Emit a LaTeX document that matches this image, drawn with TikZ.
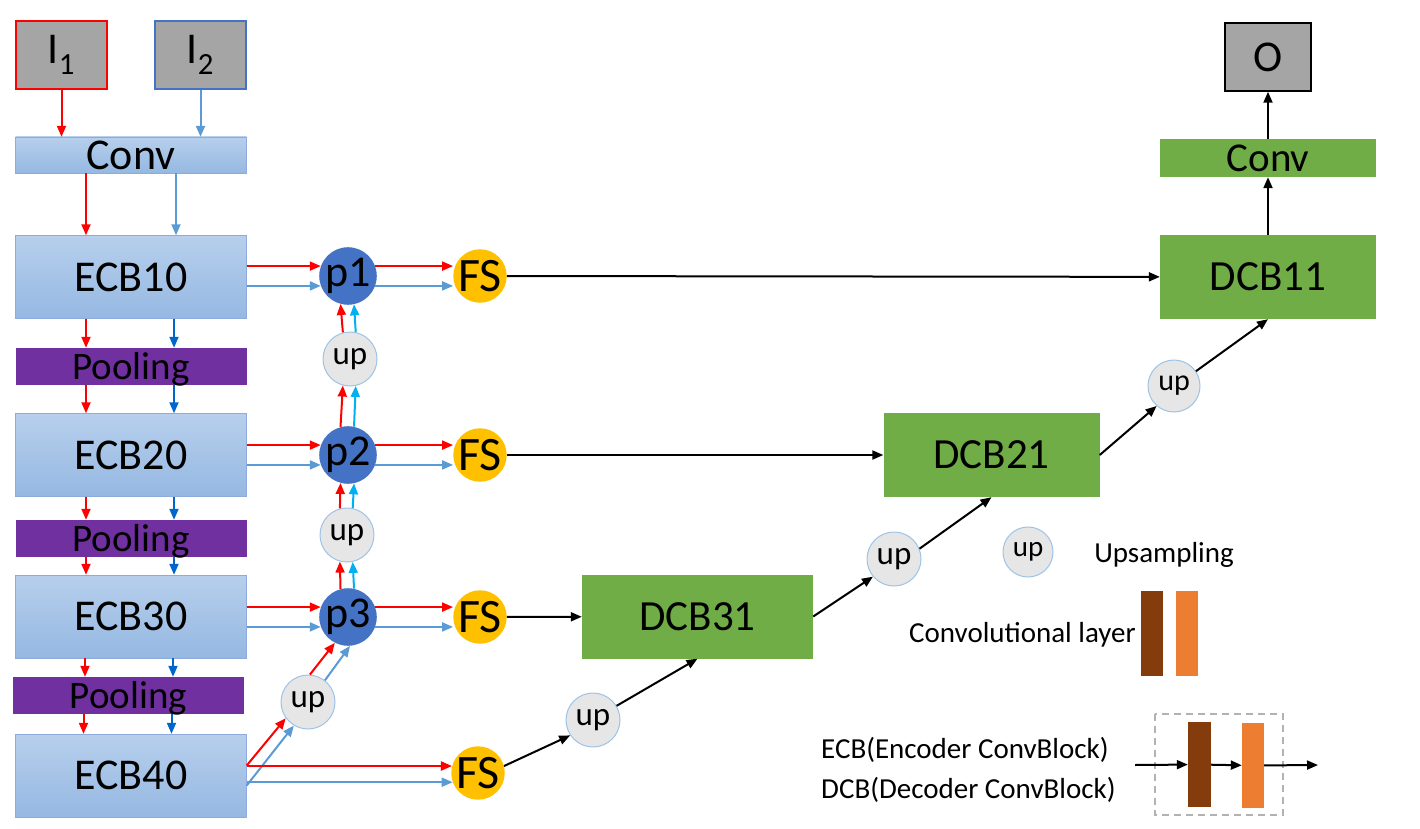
\documentclass[tikz,border=0pt]{standalone}
\usepackage{fontspec}
\setmainfont{Carlito}
\usepackage{tikz}
\usetikzlibrary{arrows.meta}
\definecolor{imggray}{HTML}{A5A5A5}
\definecolor{ecbtop}{HTML}{B7CFEC}
\definecolor{ecbbot}{HTML}{95B8E2}
\definecolor{ecbline}{HTML}{8FAADC}
\definecolor{poolpurple}{HTML}{7030A0}
\definecolor{pblue}{HTML}{4472C4}
\definecolor{fsyellow}{HTML}{FFC000}
\definecolor{upgray}{HTML}{E7E6E6}
\definecolor{upline}{HTML}{9DC3E6}
\definecolor{dcbgreen}{HTML}{70AD47}
\definecolor{lineblue}{HTML}{5B9BD5}
\definecolor{darkblue}{HTML}{0066CC}
\definecolor{cyanline}{HTML}{00B0F0}
\definecolor{convbrown}{HTML}{843C0C}
\definecolor{convorange}{HTML}{ED7D31}

\begin{document}
\begin{tikzpicture}[x=1pt,y=-1pt]
\tikzset{inbox/.style = {shape=rectangle,draw,line width=1.5pt,fill=imggray,minimum width=91pt,minimum height=68pt,inner sep=0pt,font=\fontsize{44}{50}\selectfont}}
\tikzset{ecb/.style = {shape=rectangle,draw=ecbline,top color=ecbtop,bottom color=ecbbot,minimum width=231pt,minimum height=83pt,inner sep=0pt,font=\fontsize{44}{50}\selectfont}}
\tikzset{pool/.style = {shape=rectangle,fill=poolpurple,minimum width=231pt,minimum height=37pt,inner sep=0pt,text depth=2pt,font=\fontsize{39}{46}\selectfont}}
\tikzset{dcb/.style = {shape=rectangle,fill=dcbgreen,minimum width=216pt,minimum height=84pt,inner sep=0pt,font=\fontsize{43}{50}\selectfont}}
\tikzset{pnode/.style = {shape=circle,fill=pblue,minimum size=54pt,inner sep=0pt,font=\fontsize{44}{50}\selectfont}}
\tikzset{fs/.style = {shape=circle,fill=fsyellow,minimum size=50pt,inner sep=0pt,font=\fontsize{48}{54}\selectfont}}
\tikzset{upnode/.style = {shape=circle,draw=upline,line width=1pt,fill=upgray,minimum size=54pt,inner sep=0pt,font=\fontsize{33}{38}\selectfont}}
\tikzset{bar/.style = {shape=rectangle,minimum width=22pt,minimum height=85pt,inner sep=0pt}}
\tikzset{legtext/.style = {inner sep=0pt,font=\fontsize{29}{35}\selectfont}}
\tikzset{redge/.style = {draw=red,line width=2pt,-{Triangle[length=11pt,width=9pt]}}}
\tikzset{bedge/.style = {draw=lineblue,line width=2pt,-{Triangle[length=11pt,width=9pt]}}}
\tikzset{dedge/.style = {draw=darkblue,line width=2pt,-{Triangle[length=11pt,width=9pt]}}}
\tikzset{cedge/.style = {draw=cyanline,line width=2pt,-{Triangle[length=11pt,width=9pt]}}}
\tikzset{kedge/.style = {draw=black,line width=2pt,-{Triangle[length=11pt,width=9pt]}}}
\useasboundingbox (0,0) rectangle (1420,829);
% encoder
\node[inbox,draw=red] (I1) at (61.5,55) {I\textsubscript{1}};
\node[inbox,draw=pblue] (I2) at (200.5,55) {I\textsubscript{2}};
\node[ecb,minimum height=36pt] (Conv1) at (131,155) {Conv};
\node[ecb] (ECB10) at (131,277) {ECB10};
\node[pool] (Pool1) at (131,366.5) {Pooling};
\node[ecb] (ECB20) at (131,455) {ECB20};
\node[pool] (Pool2) at (131,538.5) {Pooling};
\node[ecb] (ECB30) at (131,616.5) {ECB30};
\node[pool] (Pool3) at (128.5,695.5) {Pooling};
\node[ecb] (ECB40) at (131,775.5) {ECB40};
% fusion
\node[pnode] (p1) at (348,276) {p1};
\node[pnode] (p2) at (348,455) {p2};
\node[pnode] (p3) at (348,617) {p3};
\node[upnode] (up1) at (350,359) {up};
\node[upnode] (up2) at (347,535) {up};
\node[upnode] (up3) at (308,702) {up};
\node[fs] (FS1) at (480,276) {FS};
\node[fs] (FS2) at (480,455) {FS};
\node[fs] (FS3) at (480,617) {FS};
\node[fs] (FS4) at (478,773) {FS};
% decoder
\node[dcb,minimum width=231pt] (DCB31) at (697.5,616.5) {DCB31};
\node[dcb] (DCB21) at (991.5,455) {DCB21};
\node[dcb] (DCB11) at (1268,277) {DCB11};
\node[dcb,minimum height=38pt,font=\fontsize{41}{48}\selectfont] (Conv2) at (1268,158) {Conv};
\node[inbox,minimum width=86pt] (O) at (1268,57) {O};
\node[upnode] (upD1) at (593,720) {up};
\node[upnode] (upD2) at (894,559) {up};
\node[upnode,minimum size=52pt,font=\fontsize{30}{36}\selectfont] (upD3) at (1174,386) {up};
% legend
\node[upnode,minimum size=50pt,font=\fontsize{29}{35}\selectfont] (legup) at (1028,552) {up};
\node[legtext] (legupText) at (1164,555) {Upsampling};
\node[bar,fill=convbrown] (legBrown) at (1152,633.5) {};
\node[bar,fill=convorange] (legOrange) at (1186.5,633.5) {};
\node[legtext,anchor=east] (legConvText) at (1136,635) {Convolutional layer};
\node[legtext,anchor=west] (legECB) at (821,750) {ECB(Encoder ConvBlock)};
\node[legtext,anchor=west] (legDCB) at (821,790) {DCB(Decoder ConvBlock)};
\draw[gray!60,dash pattern=on 7pt off 5pt,line width=1.2pt] (1155,714) rectangle (1283,815);
\node[bar,minimum width=23pt,fill=convbrown] (blkBrown) at (1199.5,764.5) {};
\node[bar,fill=convorange] (blkOrange) at (1253,765.5) {};
\coordinate (blkIn) at (1135,765);
\coordinate (blkOut) at (1318,765);
% encoder arrows
\draw[redge] (I1.south) -- (I1.south |- Conv1.north);
\draw[bedge] (I2.south) -- (I2.south |- Conv1.north);
\draw[redge] ([xshift=-45pt]Conv1.south) -- ([xshift=-45pt]ECB10.north);
\draw[bedge] ([xshift=45pt]Conv1.south) -- ([xshift=45pt]ECB10.north);
\draw[redge] ([xshift=-45pt]ECB10.south) -- ([xshift=-45pt]ECB10.south |- Pool1.north);
\draw[dedge] ([xshift=43pt]ECB10.south) -- ([xshift=43pt]ECB10.south |- Pool1.north);
\draw[redge] ([xshift=-45pt]Pool1.south) -- ([xshift=-45pt]Pool1.south |- ECB20.north);
\draw[dedge] ([xshift=43pt]Pool1.south) -- ([xshift=43pt]Pool1.south |- ECB20.north);
\draw[redge] ([xshift=-45pt]ECB20.south) -- ([xshift=-45pt]ECB20.south |- Pool2.north);
\draw[dedge] ([xshift=43pt]ECB20.south) -- ([xshift=43pt]ECB20.south |- Pool2.north);
\draw[redge] ([xshift=-45pt]Pool2.south) -- ([xshift=-45pt]Pool2.south |- ECB30.north);
\draw[dedge] ([xshift=43pt]Pool2.south) -- ([xshift=43pt]Pool2.south |- ECB30.north);
\draw[redge] ([xshift=-46pt]ECB30.south) -- ([xshift=-46pt]ECB30.south |- Pool3.north);
\draw[dedge] ([xshift=42pt]ECB30.south) -- ([xshift=42pt]ECB30.south |- Pool3.north);
\draw[redge] ([xshift=-45pt]Pool3.south) -- ([xshift=-45pt]Pool3.south |- ECB40.north);
\draw[dedge] ([xshift=43pt]Pool3.south) -- ([xshift=43pt]Pool3.south |- ECB40.north);
% fusion arrows
\draw[redge] (ECB10.east |- p1.160) -- (p1.160);
\draw[bedge] (ECB10.east |- p1.200) -- (p1.200);
\draw[redge] (ECB20.east |- p2.160) -- (p2.160);
\draw[bedge] (ECB20.east |- p2.200) -- (p2.200);
\draw[redge] (ECB30.east |- p3.160) -- (p3.160);
\draw[bedge] (ECB30.east |- p3.200) -- (p3.200);
\draw[redge] (p1.20) -- (p1.20 -| FS1.west);
\draw[bedge] (p1.340) -- (p1.340 -| FS1.west);
\draw[redge] (p2.20) -- (p2.20 -| FS2.west);
\draw[bedge] (p2.340) -- (p2.340 -| FS2.west);
\draw[redge] (p3.20) -- (p3.20 -| FS3.west);
\draw[bedge] (p3.340) -- (p3.340 -| FS3.west);
\draw[redge] (up1.105) -- (p1.255);
\draw[cedge] (up1.78) -- (p1.282);
\draw[redge] (p2.105) -- (up1.255);
\draw[cedge] (p2.78) -- (up1.282);
\draw[redge] (up2.105) -- (p2.255);
\draw[cedge] (up2.78) -- (p2.282);
\draw[redge] (p3.105) -- (up2.255);
\draw[cedge] (p3.78) -- (up2.282);
\draw[redge] ([yshift=10pt]ECB40.east) -- (up3.216);
\draw[bedge] ([yshift=-10pt]ECB40.east) -- (up3.239);
\draw[redge] (up3.86) -- (p3.243);
\draw[bedge] (up3.52) -- (p3.274);
\draw[redge] (ECB40.east |- FS4.165) -- (FS4.165);
\draw[bedge] (ECB40.east |- FS4.200) -- (FS4.200);
% decoder arrows
\draw[kedge] (FS1) -- (DCB11);
\draw[kedge] (FS2) -- (DCB21);
\draw[kedge] (FS3) -- (DCB31);
\draw[kedge] (FS4.15) -- (upD1.214);
\draw[kedge] (upD1.31) -- (DCB31.south);
\draw[kedge] (DCB31.east) -- (upD2.220);
\draw[kedge] (upD2.22) -- (DCB21.south);
\draw[kedge] (DCB21.east) -- (upD3.229);
\draw[kedge] (upD3.34) -- (DCB11.south);
\draw[kedge] (DCB11) -- (Conv2);
\draw[kedge] (Conv2) -- (O);
% legend arrows
\draw[kedge] (blkIn) -- (blkBrown);
\draw[kedge] (blkBrown) -- (blkOrange);
\draw[kedge] (blkOrange) -- (blkOut);
\end{tikzpicture}
\end{document}
